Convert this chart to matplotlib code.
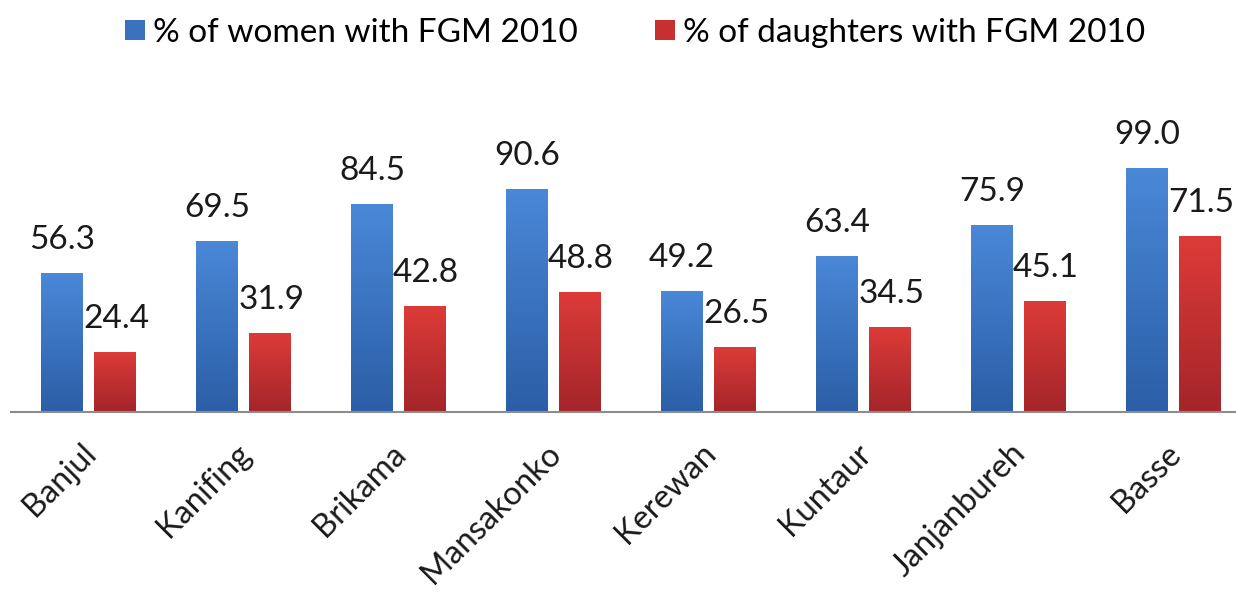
import numpy as np
import matplotlib.pyplot as plt
from matplotlib.patches import Patch
from matplotlib.colors import LinearSegmentedColormap

districts = ["Banjul", "Kanifing", "Brikama", "Mansakonko", "Kerewan",
             "Kuntaur", "Janjanbureh", "Basse"]
women = [56.3, 69.5, 84.5, 90.6, 49.2, 63.4, 75.9, 99.0]
daughters = [24.4, 31.9, 42.8, 48.8, 26.5, 34.5, 45.1, 71.5]

blue_top, blue_bot = "#4a88d8", "#2b5ea6"
red_top, red_bot = "#dd3b38", "#a4252a"

plt.rcParams['font.family'] = ['Lato', 'DejaVu Sans']

fig = plt.figure(figsize=(12.36, 5.92), dpi=100)
# axes: x from -0.5 .. 7.5 mapped to px 10.5 .. 1250.5, baseline at y=412
W, H = 1236, 592
ax = fig.add_axes([10.5 / W, (H - 412) / H, 1240 / W, 246.5 / H])

x = np.arange(len(districts))
bw = 0.265
off = 0.168


def grad_bars(xs, vals, c_top, c_bot):
    bars = ax.bar(xs, vals, bw, color=c_bot, zorder=2)
    cmap = LinearSegmentedColormap.from_list("g", [c_bot, c_top])
    grad = np.linspace(0, 1, 256).reshape(-1, 1)
    for b in bars:
        x0, y0 = b.get_x(), b.get_y()
        im = ax.imshow(grad, cmap=cmap, aspect='auto', origin='lower',
                       extent=[x0, x0 + b.get_width(), y0, y0 + b.get_height()],
                       zorder=3)
        im.set_clip_path(b)
    return bars


grad_bars(x - off, women, blue_top, blue_bot)
grad_bars(x + off, daughters, red_top, red_bot)
ax.set_xlim(-0.5, 7.5)
ax.set_ylim(0, 100)

# value labels (red ones sit a little right of their bars)
for xs, vals, dx in ((x - off, women, 0), (x + off, daughters, 1.5)):
    for xi, v in zip(xs, vals):
        ax.annotate(f"{v:.1f}", (xi, v), xytext=(dx, 13), textcoords='offset points',
                    ha='center', va='bottom', fontsize=24, color='#1a1a1a',
                    annotation_clip=False)

for s in ['top', 'right', 'left']:
    ax.spines[s].set_visible(False)
ax.spines['bottom'].set_color('#8c8c8c')
ax.spines['bottom'].set_linewidth(1.5)
ax.spines['bottom'].set_zorder(5)
ax.set_yticks([])
ax.set_xticks(x)
ax.set_xticklabels([])
ax.tick_params(axis='x', length=0)

# rotated category labels
for xi, name in zip(x, districts):
    ax.annotate(name, (xi, 0), xytext=(7, -31), textcoords='offset points',
                ha='right', va='baseline', rotation=45, rotation_mode='anchor',
                fontsize=23.5, color='#1a1a1a', annotation_clip=False)

handles = [Patch(facecolor="#3a72c0", label="% of women with FGM 2010"),
           Patch(facecolor="#c72f30", label="% of daughters with FGM 2010")]
fig.legend(handles=handles, loc='center', bbox_to_anchor=(635 / W, 1 - 33 / H),
           ncol=2, frameon=False, fontsize=24, handlelength=0.6,
           handleheight=0.54, handletextpad=0.24, columnspacing=2.3,
           borderpad=0)

fig.savefig("out.png", dpi=100)
